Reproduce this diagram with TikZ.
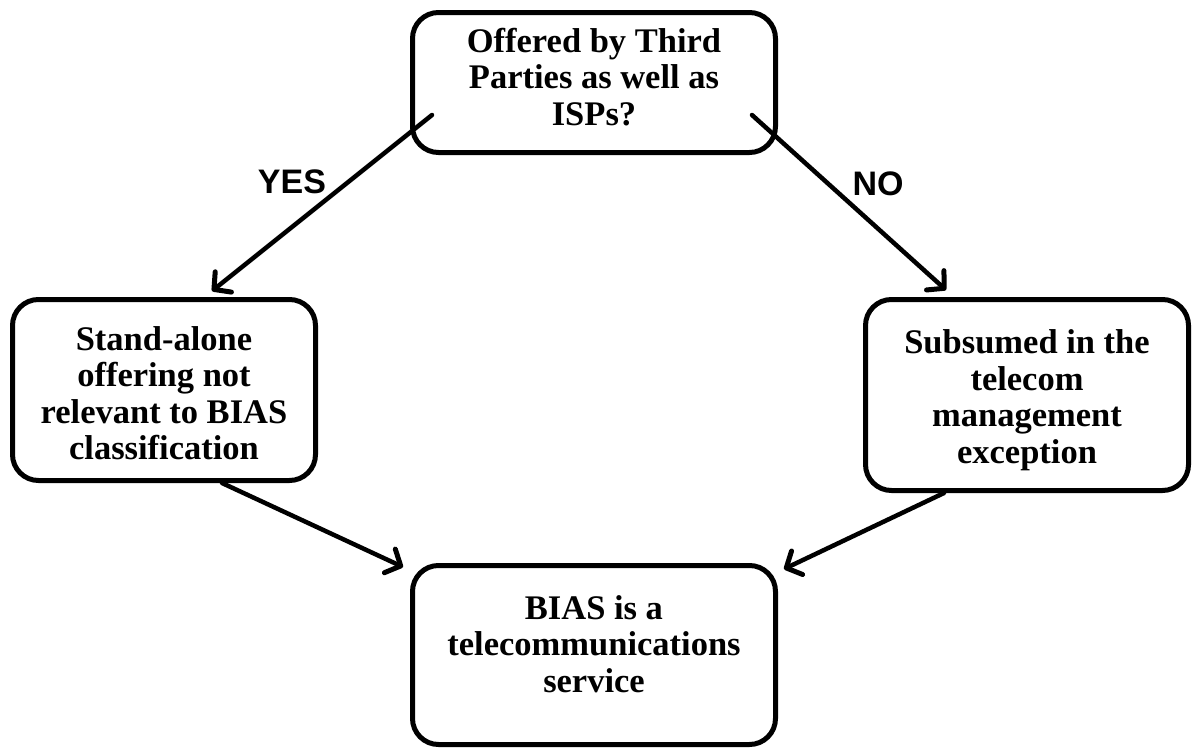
\documentclass[tikz,border=0pt]{standalone}
\usepackage{fontspec}
\setmainfont{Liberation Serif}
\newfontfamily\labelfont{Liberation Sans}
\usetikzlibrary{arrows.meta}
\tikzset{
  box/.style={draw=black, line width=5pt, rounded corners=26pt, fill=white, inner sep=0pt},
  boxtext/.style={align=center, font=\fontsize{34.5}{36.5}\selectfont\bfseries, inner sep=0pt},
  conn/.style={line width=4.5pt, line cap=round, -{Straight Barb[length=12pt,width=26pt,line width=5pt,round]}},
  yesno/.style={font=\fontsize{34}{36}\selectfont\labelfont\bfseries, inner sep=0pt}
}
\begin{document}
\begin{tikzpicture}[x=1pt,y=-1pt]
\useasboundingbox (0,0) rectangle (1199,755);
% boxes
\node[box, minimum width=363pt, minimum height=140pt] (top) at (594,82.5) {};
\node[box, minimum width=303pt, minimum height=181pt] (left) at (164,390) {};
\node[box, minimum width=323pt, minimum height=191pt] (right) at (1027,395) {};
\node[box, minimum width=363pt, minimum height=179pt] (bottom) at (594,655) {};
% texts
\node[boxtext] (toptext) at (594,77) {Offered by Third\\Parties as well as\\ISPs?};
\node[boxtext] (lefttext) at (164,393) {Stand-alone\\offering not\\relevant to BIAS\\classification};
\node[boxtext] (righttext) at (1027,400) {Subsumed in the\\telecom\\management\\exception};
\node[boxtext] (bottomtext) at (594,644) {BIAS is a\\telecommunications\\service};
% connector end points
\coordinate (a1s) at (432,115);
\coordinate (a1e) at (212,291);
\coordinate (a2s) at (752,115);
\coordinate (a2e) at (946,290);
\coordinate (a3s) at (222,483);
\coordinate (a3e) at (403,567);
\coordinate (a4s) at (944,493);
\coordinate (a4e) at (784,569);
\draw[conn] (a1s) -- (a1e);
\draw[conn] (a2s) -- (a2e);
\draw[conn] (a3s) -- (a3e);
\draw[conn] (a4s) -- (a4e);
% labels
\node[yesno] (yes) at (292,182) {YES};
\node[yesno] (no) at (878,184) {NO};
\end{tikzpicture}
\end{document}
